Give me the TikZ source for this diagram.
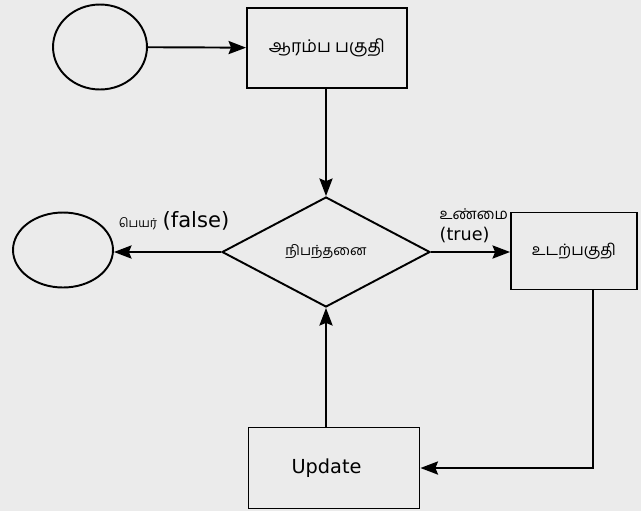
\documentclass[tikz,border=0pt]{standalone}
\usepackage{fontspec}
\setmainfont{DejaVu Sans}
\newfontfamily\tamil[Script=Tamil]{Hind Madurai}
\usetikzlibrary{arrows.meta,shapes.geometric}

\begin{document}
\begin{tikzpicture}[x=0.02cm, y=-0.02cm, line width=1.1pt,
		>={Stealth[length=10pt,width=7.5pt,inset=1.5pt]},
		box/.style={draw, rectangle, inner sep=0pt},
		oval/.style={draw, ellipse, inner sep=0pt},
		cond/.style={draw, diamond, inner sep=0pt}]
		\fill [black!8] (0, 0) rectangle (641, 511);
		\useasboundingbox (0, 0) rectangle (641, 511);

		\node [oval, minimum width=1.88cm, minimum height=1.7cm] (start) at (100, 47) {};
		\node [box, minimum width=3.2cm, minimum height=1.6cm] (init) at (327, 48) {\tamil ஆரம்ப பகுதி};
		\node [cond, minimum width=4.16cm, minimum height=2.2cm] (test) at (326, 252) {\tamil\footnotesize நிபந்தனை};
		\node [oval, minimum width=2.0cm, minimum height=1.5cm] (stop) at (63, 250) {};
		\node [box, minimum width=2.52cm, minimum height=1.54cm] (body) at (574, 251) {\tamil\small உடற்பகுதி};
		\node [box, minimum width=3.42cm, minimum height=1.62cm] (upd) at (334, 468) {\fontsize{11}{13}\selectfont Update\hspace*{0.3cm}};
		\coordinate (turn) at (593, 468);

		\draw [->] (start) -- (init);
		\draw [->] (init.south -| test.north) -- (test.north);
		\draw [->] (test.west) -- node [at start, anchor=south east, xshift=0.3cm, yshift=0.3cm]
			{{\tamil\scriptsize பெயர்} \fontsize{12}{14}\selectfont(false)} (stop.east |- test.west);
		\draw [->] (test.east) -- node [at start, anchor=south west, align=left, inner sep=1pt, xshift=0.12cm, yshift=0.12cm]
			{{\tamil\fontsize{8.5}{10}\selectfont உண்மை}\\(true)} (body.west |- test.east);
		\draw [->] (body.south -| turn) -- (turn) -- (upd.east);
		\draw [->] (upd.north -| test.south) -- (test.south);
\end{tikzpicture}
\end{document}
